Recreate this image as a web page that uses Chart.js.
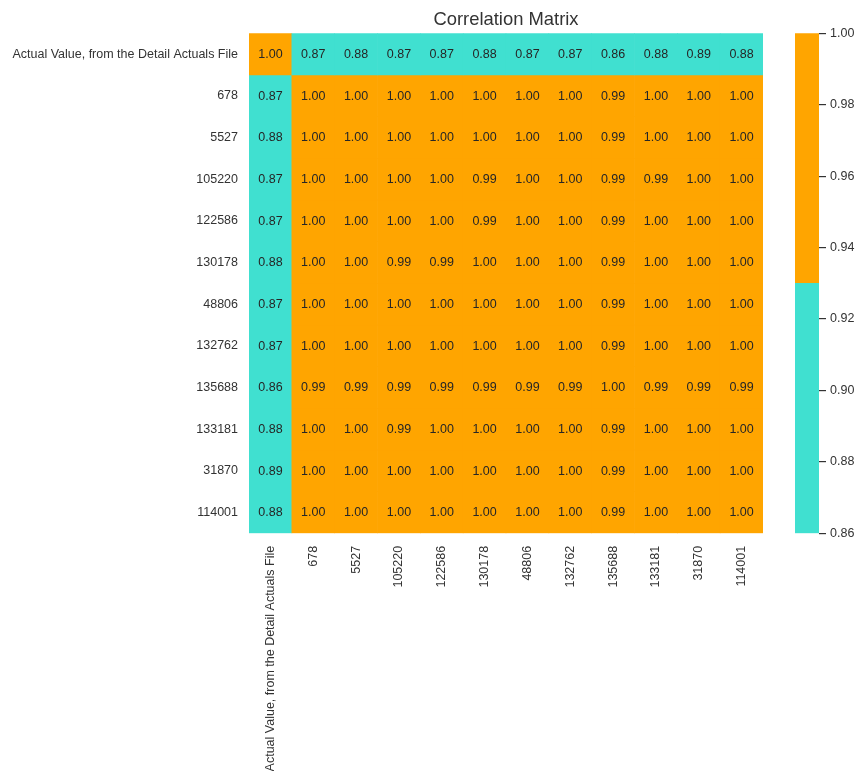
<!DOCTYPE html>
<html>
<head>
<meta charset="utf-8">
<script src="https://cdn.jsdelivr.net/npm/chart.js@4.4.1/dist/chart.umd.min.js"></script>
<style>
  html, body { margin: 0; padding: 0; background: #ffffff; }
  #wrap { position: relative; width: 857px; height: 771px; overflow: hidden; }
  #heat { position: absolute; left: 0; top: 0; }
  #cbar { position: absolute; left: 795px; top: 0; }
</style>
</head>
<body>
<div id="wrap">
  <canvas id="heat" width="857" height="771"></canvas>
  <canvas id="cbar" width="62" height="771"></canvas>
</div>
<script>
// Variables compared in the correlation matrix (same order for rows and columns)
const variables = [
  "Actual Value, from the Detail Actuals File",
  "678", "5527", "105220", "122586", "130178", "48806",
  "132762", "135688", "133181", "31870", "114001"
];

// Correlation coefficients, one array per row
const rowActual = [1.00, 0.87, 0.88, 0.87, 0.87, 0.88, 0.87, 0.87, 0.86, 0.88, 0.89, 0.88];
const row678    = [0.87, 1.00, 1.00, 1.00, 1.00, 1.00, 1.00, 1.00, 0.99, 1.00, 1.00, 1.00];
const row5527   = [0.88, 1.00, 1.00, 1.00, 1.00, 1.00, 1.00, 1.00, 0.99, 1.00, 1.00, 1.00];
const row105220 = [0.87, 1.00, 1.00, 1.00, 1.00, 0.99, 1.00, 1.00, 0.99, 0.99, 1.00, 1.00];
const row122586 = [0.87, 1.00, 1.00, 1.00, 1.00, 0.99, 1.00, 1.00, 0.99, 1.00, 1.00, 1.00];
const row130178 = [0.88, 1.00, 1.00, 0.99, 0.99, 1.00, 1.00, 1.00, 0.99, 1.00, 1.00, 1.00];
const row48806  = [0.87, 1.00, 1.00, 1.00, 1.00, 1.00, 1.00, 1.00, 0.99, 1.00, 1.00, 1.00];
const row132762 = [0.87, 1.00, 1.00, 1.00, 1.00, 1.00, 1.00, 1.00, 0.99, 1.00, 1.00, 1.00];
const row135688 = [0.86, 0.99, 0.99, 0.99, 0.99, 0.99, 0.99, 0.99, 1.00, 0.99, 0.99, 0.99];
const row133181 = [0.88, 1.00, 1.00, 0.99, 1.00, 1.00, 1.00, 1.00, 0.99, 1.00, 1.00, 1.00];
const row31870  = [0.89, 1.00, 1.00, 1.00, 1.00, 1.00, 1.00, 1.00, 0.99, 1.00, 1.00, 1.00];
const row114001 = [0.88, 1.00, 1.00, 1.00, 1.00, 1.00, 1.00, 1.00, 0.99, 1.00, 1.00, 1.00];

const matrix = [rowActual, row678, row5527, row105220, row122586, row130178,
                row48806, row132762, row135688, row133181, row31870, row114001];

// Two-colour colormap: value range and the threshold between the colours
const colorStops = [0.86, 0.93, 1.00];
const colorList = ["#40E0D0", "#FFA500"];
const colorTicks = [0.86, 0.88, 0.90, 0.92, 0.94, 0.96, 0.98, 1.00];

const FONT = "'Liberation Sans', Arial, sans-serif";
const TEXT = "#333333";
const SIZE = 12.5;

function colorFor(v) {
  return v < colorStops[1] ? colorList[0] : colorList[1];
}

// One floating-bar dataset per row: each bar spans [row, row + 1] on the y scale
const heatDatasets = matrix.map((row, r) => ({
  label: variables[r],
  data: row.map(() => [r, r + 1]),
  values: row,
  backgroundColor: row.map(colorFor),
  borderWidth: 0,
  barPercentage: 1.0,
  categoryPercentage: 1.0,
  grouped: false
}));

// Writes each coefficient in the middle of its cell
const cellLabels = {
  id: "cellLabels",
  afterDatasetsDraw(chart) {
    const ctx = chart.ctx;
    ctx.save();
    ctx.font = SIZE + "px " + FONT;
    ctx.fillStyle = "#262626";
    ctx.textAlign = "center";
    ctx.textBaseline = "middle";
    chart.data.datasets.forEach((ds, di) => {
      const meta = chart.getDatasetMeta(di);
      meta.data.forEach((bar, i) => {
        const y = (bar.y + bar.base) / 2;
        ctx.fillText(ds.values[i].toFixed(2), bar.x, y + 0.5);
      });
    });
    ctx.restore();
  }
};

new Chart(document.getElementById("heat"), {
  type: "bar",
  data: { labels: variables, datasets: heatDatasets },
  plugins: [cellLabels],
  options: {
    responsive: false,
    animation: false,
    layout: { padding: { left: 0, right: 94, top: 0, bottom: 0 } },
    plugins: {
      legend: { display: false },
      tooltip: { enabled: false },
      title: {
        display: true,
        text: "Correlation Matrix",
        fullSize: false,
        color: TEXT,
        font: { family: FONT, size: 18.4, weight: "normal", lineHeight: 1.2 },
        padding: { top: 8.6, bottom: 2.65 }
      }
    },
    scales: {
      x: {
        type: "category",
        offset: true,
        grid: { display: false, drawTicks: false },
        border: { display: false },
        ticks: {
          autoSkip: false,
          minRotation: 90,
          maxRotation: 90,
          padding: 12.5,
          color: TEXT,
          font: { family: FONT, size: SIZE }
        },
        afterFit(scale) { scale.height = 771 - 533.33; }
      },
      y: {
        type: "linear",
        min: 0,
        max: variables.length,
        reverse: true,
        grid: { display: false, drawTicks: false },
        border: { display: false },
        afterBuildTicks(scale) {
          scale.ticks = variables.map((_, i) => ({ value: i + 0.5 }));
        },
        ticks: {
          padding: 11,
          color: TEXT,
          font: { family: FONT, size: SIZE },
          callback: (value, index) => variables[index]
        },
        afterFit(scale) { scale.width = 249; }
      }
    }
  }
});

// Colour bar: two floating segments on a linear value scale
new Chart(document.getElementById("cbar"), {
  type: "bar",
  data: {
    labels: ["scale"],
    datasets: colorList.map((c, i) => ({
      data: [[colorStops[i], colorStops[i + 1]]],
      backgroundColor: c,
      borderWidth: 0,
      barPercentage: 1.0,
      categoryPercentage: 1.0,
      grouped: false
    }))
  },
  options: {
    responsive: false,
    animation: false,
    layout: { padding: { left: 0, right: 0, top: 33.33, bottom: 771 - 533.33 } },
    plugins: { legend: { display: false }, tooltip: { enabled: false } },
    scales: {
      x: { display: false },
      y: {
        position: "right",
        min: colorStops[0],
        max: colorStops[colorStops.length - 1],
        grid: { display: true, drawOnChartArea: false, drawTicks: true, tickLength: 7, color: TEXT, lineWidth: 1.2 },
        border: { display: false },
        afterBuildTicks(scale) {
          scale.ticks = colorTicks.map(v => ({ value: v }));
        },
        ticks: {
          padding: 4,
          color: TEXT,
          font: { family: FONT, size: SIZE },
          callback: v => Number(v).toFixed(2)
        },
        afterFit(scale) { scale.width = 62 - 24; }
      }
    }
  }
});
</script>
</body>
</html>
